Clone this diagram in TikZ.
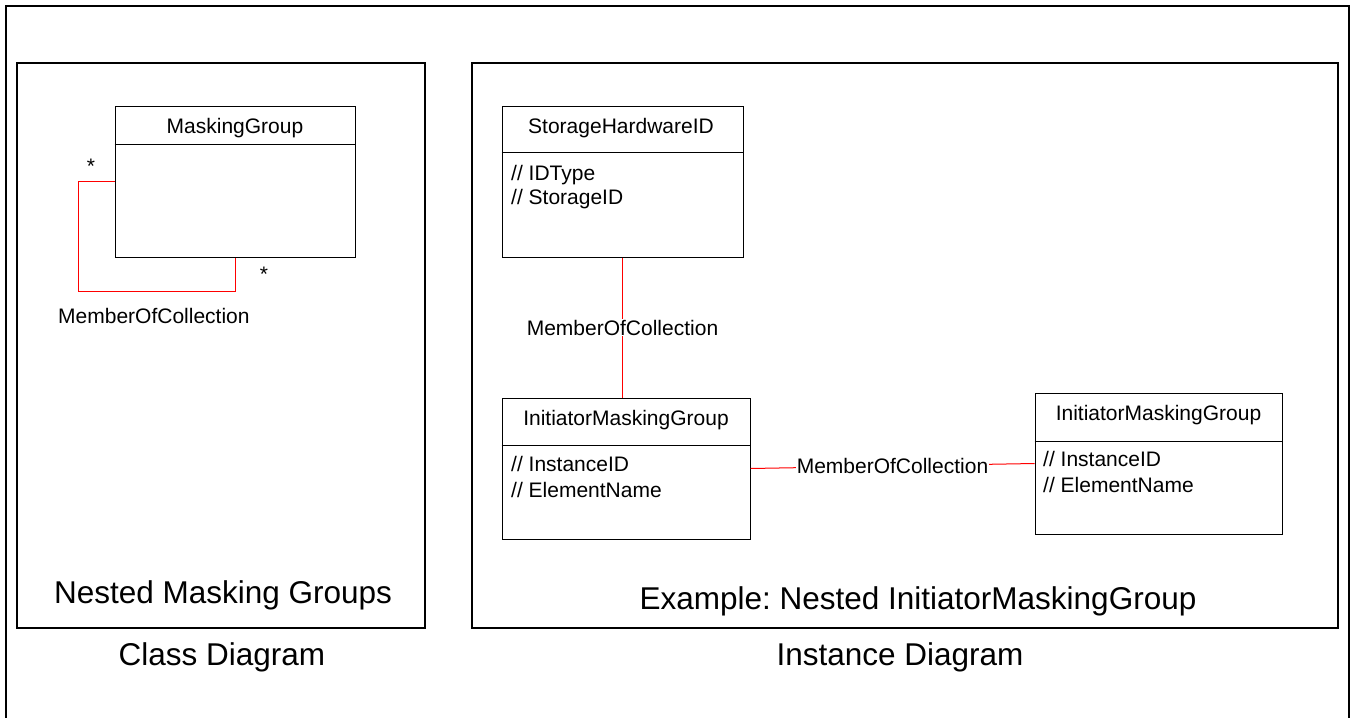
\documentclass[tikz,border=0pt]{standalone}
\usepackage{fontspec}
\setmainfont{Liberation Sans}
\frenchspacing
\begin{document}
\begin{tikzpicture}[x=1pt,y=-1pt,
  umlbox/.style={draw, line width=1pt, inner sep=0},
  panel/.style={draw, line width=2pt, inner sep=0},
  small/.style={font=\fontsize{21}{24}\selectfont, inner sep=0, anchor=base},
  attr/.style={font=\fontsize{21}{24}\selectfont, inner sep=0, anchor=base west},
  big/.style={font=\fontsize{31.5}{36}\selectfont, inner sep=0, anchor=base},
  conn/.style={draw=red, line width=1pt},
  lbl/.style={font=\fontsize{21}{24}\selectfont, fill=white, inner sep=1pt}]
\useasboundingbox (0,0) rectangle (1351,717);
% outer frame
\draw[line width=2pt] (6,725) -- (6,6) -- (1349,6) -- (1349,725);
% panels
\node[panel, minimum width=408, minimum height=565] (leftpanel) at (221,345.5) {};
\node[panel, minimum width=866, minimum height=565] (rightpanel) at (905,345.5) {};

% ---------- class diagram ----------
\node[umlbox, minimum width=240, minimum height=151] (mg) at (235,181.5) {};
\draw[line width=1pt] (mg.west |- 0,144) -- (mg.east |- 0,144);
\node[small] (mgt) at (235,133.5) {MaskingGroup};
\coordinate (c1) at (78,181.5);
\coordinate (c2) at (78,291);
\draw[conn] (mg.west) -- (c1) -- (c2) -| (mg.south);
\node[small] (star1) at (91,173) {*};
\node[small] (star2) at (264,281) {*};
\node[small, anchor=base west] (mocl) at (58,323) {MemberOfCollection};
\node[big] (nmg) at (223,603) {Nested Masking Groups};
\node[big] (cd) at (222,665) {Class Diagram};

% ---------- instance diagram ----------
\node[umlbox, minimum width=241, minimum height=151] (shid) at (622.5,181.5) {};
\draw[line width=1pt] (shid.west |- 0,152) -- (shid.east |- 0,152);
\node[small] (shidt) at (621,133) {StorageHardwareID};
\node[attr] (shida1) at (511,180) {// IDType};
\node[attr] (shida2) at (511,204) {// StorageID};

\node[umlbox, minimum width=248, minimum height=141] (img1) at (626,468.5) {};
\draw[line width=1pt] (img1.west |- 0,445) -- (img1.east |- 0,445);
\node[small] (img1t) at (626,425) {InitiatorMaskingGroup};
\node[attr] (img1a1) at (511,471) {// InstanceID};
\node[attr] (img1a2) at (511,497) {// ElementName};

\node[umlbox, minimum width=247, minimum height=141] (img2) at (1158.5,463.5) {};
\draw[line width=1pt] (img2.west |- 0,441) -- (img2.east |- 0,441);
\node[small] (img2t) at (1158.5,420) {InitiatorMaskingGroup};
\node[attr] (img2a1) at (1043,466) {// InstanceID};
\node[attr] (img2a2) at (1043,492) {// ElementName};

\draw[conn] (shid.south) -- node[lbl] (moc1) {MemberOfCollection} (shid.south |- img1.north);
\draw[conn] (img1.east) -- node[lbl] (moc2) {MemberOfCollection} (img2.west);

\node[big] (ex) at (918,609) {Example: Nested InitiatorMaskingGroup};
\node[big] (idg) at (900,665) {Instance Diagram};
\end{tikzpicture}
\end{document}
